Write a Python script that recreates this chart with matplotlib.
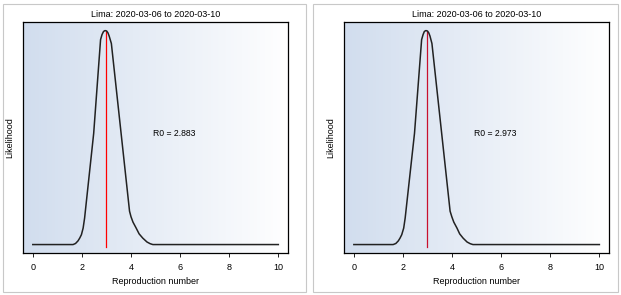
import numpy as np
import matplotlib
matplotlib.use('Agg')
import matplotlib.pyplot as plt
from matplotlib.patches import Rectangle

plt.rcParams['font.family'] = ['Liberation Sans', 'DejaVu Sans']

# curve values (R0 grid, relative likelihood)
r0_left = [0.0, 1.64, 1.74, 1.84, 1.91, 1.98, 2.05, 2.11, 2.48, 2.76, 2.82, 2.88, 2.93, 2.97, 3.01, 3.06, 3.11, 3.2,
           3.94, 4.0, 4.08, 4.21, 4.33, 4.48, 4.65, 4.78, 4.89, 10.0]
lik_left = [0.0, 0.0, 0.005, 0.017, 0.03, 0.046, 0.077, 0.124, 0.52, 0.958, 0.982, 0.996, 1.0, 1.0, 0.998, 0.99, 0.975,
            0.94, 0.156, 0.13, 0.105, 0.077, 0.05, 0.03, 0.012, 0.004, 0.0, 0.0]
r0_right = [0.0, 1.6, 1.71, 1.81, 1.88, 1.95, 2.03, 2.09, 2.47, 2.76, 2.82, 2.87, 2.92, 2.96, 3.0, 3.05, 3.1, 3.18,
            3.92, 3.99, 4.07, 4.2, 4.31, 4.45, 4.61, 4.74, 4.85, 10.0]
lik_right = [0.0, 0.0, 0.005, 0.017, 0.03, 0.046, 0.077, 0.124, 0.52, 0.958, 0.982, 0.996, 1.0, 1.0, 0.998, 0.99, 0.975,
             0.94, 0.156, 0.13, 0.105, 0.077, 0.05, 0.03, 0.012, 0.004, 0.0, 0.0]

peaks = [2.97, 2.97]
r0_labels = ['R0 = 2.883', 'R0 = 2.973']
line_colors = ['#ff0000', '#c8102e']
titles = ['Lima: 2020-03-06 to 2020-03-10', 'Lima: 2020-03-06 to 2020-03-10']

fig = plt.figure(figsize=(6.21, 2.95), dpi=100)

# light grey frames around each panel
for x0, w in [(3, 303), (313, 305)]:
    fig.patches.append(Rectangle((x0 / 621, 3 / 295), w / 621, 288 / 295,
                                 transform=fig.transFigure, fill=False,
                                 edgecolor='#c8c8c8', linewidth=0.8))

positions = [[0.037, 0.142, 0.427, 0.783], [0.554, 0.142, 0.427, 0.783]]
curves = [(r0_left, lik_left), (r0_right, lik_right)]

grad = np.linspace(0, 1, 256).reshape(1, -1)
cmap = matplotlib.colors.LinearSegmentedColormap.from_list('bg', ['#d1ddee', '#ffffff'])

for i in range(2):
    ax = fig.add_axes(positions[i])
    ax.set_xlim(-0.4, 10.4)
    ax.set_ylim(-0.04, 1.04)
    ax.imshow(grad, extent=[-0.4, 10.4, -0.04, 1.04], aspect='auto', cmap=cmap, zorder=0)
    x, y = curves[i]
    ax.plot(x, y, color='#222222', linewidth=1.1, zorder=3, solid_joinstyle='round')
    ax.plot([peaks[i], peaks[i]], [-0.01, 1.0], color=line_colors[i], linewidth=0.9, zorder=2)
    ax.text(4.9, 0.52, r0_labels[i], fontsize=6.2, va='center', ha='left')
    ax.set_title(titles[i], fontsize=6.5, pad=4)
    ax.set_xlabel('Reproduction number', fontsize=6.5, labelpad=4)
    ax.set_ylabel('Likelihood', fontsize=6.5, labelpad=6)
    ax.set_yticks([])
    ax.set_xticks([0, 2, 4, 6, 8, 10])
    ax.tick_params(axis='x', labelsize=6.5, length=3, width=0.6, pad=4)
    for s in ax.spines.values():
        s.set_linewidth(0.9)

fig.savefig('out.png', dpi=100)
